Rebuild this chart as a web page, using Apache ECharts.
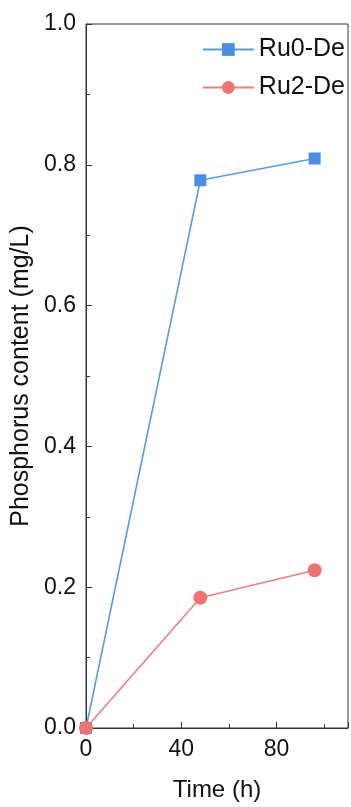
<!DOCTYPE html>
<html>
<head>
<meta charset="utf-8">
<script src="https://cdn.jsdelivr.net/npm/echarts@6/dist/echarts.min.js"></script>
<style>
  html, body { margin: 0; padding: 0; background: #fff; }
  #chart { width: 351px; height: 807px; }
</style>
</head>
<body>
<div id="chart"></div>
<script>
// Sampling times (h)
const times = [0, 48, 96];
// Phosphorus content (mg/L)
const ru0De = [0, 0.778, 0.809];
const ru2De = [0, 0.185, 0.224];
const seriesNames = ['Ru0-De', 'Ru2-De'];

const font = 'Liberation Sans, Arial, sans-serif';
const chart = echarts.init(document.getElementById('chart'));

function pairs(xs, ys) {
  return xs.map((x, i) => [x, ys[i]]);
}

chart.setOption({
  animation: false,
  grid: {
    left: 86, right: 1, top: 24, bottom: 78,
    show: true, borderColor: '#333', borderWidth: 1
  },
  legend: {
    orient: 'vertical',
    right: 6,
    top: 37,
    padding: 0,
    itemWidth: 51,
    itemHeight: 16,
    itemGap: 13,
    textStyle: { fontFamily: font, fontSize: 25, color: '#111' },
    data: seriesNames
  },
  xAxis: {
    type: 'value',
    min: 0, max: 110, interval: 40,
    name: 'Time (h)',
    nameLocation: 'middle',
    nameGap: 50,
    nameTextStyle: { fontFamily: font, fontSize: 24, color: '#111' },
    axisLine: { lineStyle: { color: '#333', width: 1 } },
    axisTick: { inside: true, length: 6, lineStyle: { color: '#333' } },
    minorTick: { show: true, splitNumber: 2, length: 4, lineStyle: { color: '#333' } },
    splitLine: { show: false },
    axisLabel: {
      fontFamily: font, fontSize: 23, color: '#111', margin: 10,
      formatter: v => (v > 100 ? '' : String(v))
    }
  },
  yAxis: {
    type: 'value',
    min: 0, max: 1.0, interval: 0.2,
    name: 'Phosphorus content (mg/L)',
    nameLocation: 'middle',
    nameGap: 47,
    nameTextStyle: { fontFamily: font, fontSize: 25, color: '#111' },
    axisLine: { show: true, lineStyle: { color: '#333', width: 1 } },
    axisTick: { show: true, inside: true, length: 6, lineStyle: { color: '#333' } },
    minorTick: { show: true, splitNumber: 2, length: 4, lineStyle: { color: '#333' } },
    splitLine: { show: false },
    axisLabel: {
      fontFamily: font, fontSize: 23, color: '#111', margin: 10,
      formatter: v => v.toFixed(1)
    }
  },
  series: [
    {
      name: seriesNames[0],
      type: 'line',
      data: pairs(times, ru0De),
      symbol: 'rect',
      symbolSize: 12,
      itemStyle: { color: '#4A8FE3' },
      lineStyle: { color: '#5A9BE6', width: 1.6 },
      z: 2
    },
    {
      name: seriesNames[1],
      type: 'line',
      data: pairs(times, ru2De),
      symbol: 'circle',
      symbolSize: 14,
      itemStyle: { color: '#F07373' },
      lineStyle: { color: '#EC7F7F', width: 1.6 },
      z: 3
    }
  ]
});
</script>
</body>
</html>
